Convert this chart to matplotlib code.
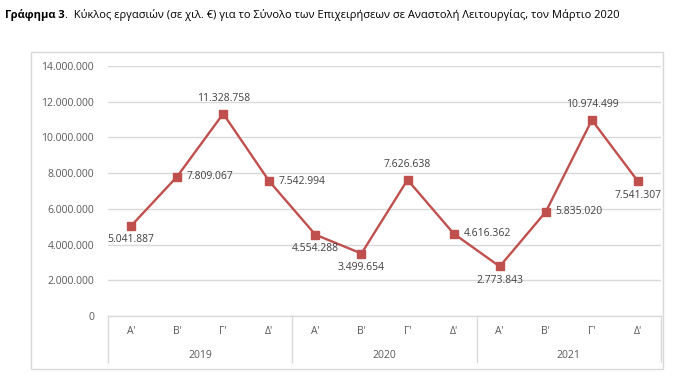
import matplotlib
matplotlib.use("Agg")
import matplotlib.pyplot as plt
from matplotlib.patches import Rectangle
from matplotlib.lines import Line2D

years = ["2019", "2020", "2021"]
quarters = ["Α'", "Β'", "Γ'", "Δ'"]
values = [5041887, 7809067, 11328758, 7542994,
          4554288, 3499654, 7626638, 4616362,
          2773843, 5835020, 10974499, 7541307]
label_pos = ["below", "right", "above", "right",
             "below", "below", "above", "right",
             "below", "right", "above", "below"]
yticks = [0, 2000000, 4000000, 6000000, 8000000, 10000000, 12000000, 14000000]

def fmt(v):
    return f"{v:,}".replace(",", ".")

plt.rcParams['font.family'] = ['Open Sans', 'DejaVu Sans']
W, H = 678, 389
fig = plt.figure(figsize=(W / 100, H / 100), dpi=100)

def fx(px):
    return px / W

def fy(py):
    return 1 - py / H

# outer frame
fig.patches.append(Rectangle((fx(31), fy(369)), fx(663) - fx(31), fy(52) - fy(369),
                             transform=fig.transFigure, fill=False,
                             edgecolor="#D9D9D9", linewidth=1.0))

left, right, top, bottom = 108, 661, 66, 316
ax = fig.add_axes([fx(left), fy(bottom), fx(right) - fx(left), fy(top) - fy(bottom)])
n = len(values)
xs = list(range(n))
ax.set_xlim(-0.5, n - 0.5)
ax.set_ylim(0, 14000000)
ax.set_yticks(yticks)
ax.set_yticklabels([fmt(v) for v in yticks], fontsize=7.5, color="#595959")
ax.tick_params(axis="y", length=0, pad=10)
ax.set_xticks([])
ax.grid(axis="y", color="#D9D9D9", linewidth=1.0)
ax.set_axisbelow(True)
for s in ["top", "right", "left"]:
    ax.spines[s].set_visible(False)
ax.spines["bottom"].set_color("#D9D9D9")
ax.spines["bottom"].set_linewidth(1.0)

color = "#C0504D"
ax.plot(xs, values, color=color, linewidth=1.7, marker="s", markersize=5.5,
        markerfacecolor=color, markeredgecolor=color, zorder=3, clip_on=False)

for x, v, p in zip(xs, values, label_pos):
    if p == "above":
        ax.annotate(fmt(v), (x, v), xytext=(0, 7), textcoords="offset points",
                    ha="center", va="bottom", fontsize=7.5, color="#404040")
    elif p == "below":
        ax.annotate(fmt(v), (x, v), xytext=(0, -6), textcoords="offset points",
                    ha="center", va="top", fontsize=7.5, color="#404040")
    else:
        ax.annotate(fmt(v), (x, v), xytext=(7, 0), textcoords="offset points",
                    ha="left", va="center", fontsize=7.5, color="#404040")

# multi-level category axis
trans = ax.get_xaxis_transform()
y_q = (bottom - 332) / (bottom - top)
y_y = (bottom - 355) / (bottom - top)
y_end = (bottom - 362) / (bottom - top)
for i in xs:
    ax.text(i, y_q, quarters[i % 4], transform=trans, ha="center", va="center",
            fontsize=7.5, color="#595959", clip_on=False)
for j, yr in enumerate(years):
    ax.text(j * 4 + 1.5, y_y, yr, transform=trans, ha="center", va="center",
            fontsize=7.5, color="#595959", clip_on=False)
for b in range(len(years) + 1):
    ax.add_line(Line2D([b * 4 - 0.5, b * 4 - 0.5], [0, y_end], transform=trans,
                       color="#D9D9D9", linewidth=1.0, clip_on=False))

# title
t1 = fig.text(fx(5), fy(15), "Γράφημα 3", fontsize=8, fontweight="bold",
              color="#000000", va="center", ha="left")
fig.canvas.draw()
bb = t1.get_window_extent()
fig.text(bb.x1 / W, fy(15), ".  Κύκλος εργασιών (σε χιλ. €) για το Σύνολο των Επιχειρήσεων σε Αναστολή Λειτουργίας, τον Μάρτιο 2020",
         fontsize=8, color="#000000", va="center", ha="left")

fig.savefig("out.png", dpi=100)
